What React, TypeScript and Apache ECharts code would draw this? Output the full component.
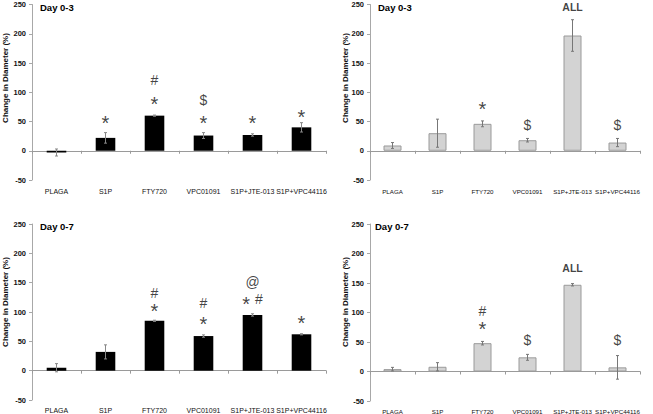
import React, { useEffect, useRef } from "react";
import * as echarts from "echarts";

const categories = ["PLAGA", "S1P", "FTY720", "VPC01091", "S1P+JTE-013", "S1P+VPC44116"];
const yTicks = { min: -50, max: 250, interval: 50 };

// Day 0-3
const day3Black = [-3, 22, 60, 26, 27, 40];
const day3BlackErr = [6, 9, 1, 5, 2, 8];
const day3Gray = [9, 30, 46, 18, 197, 14];
const day3GrayErr = [5, 24, 5, 3, 27, 7];
// Day 0-7
const day7Black = [5, 32, 85, 59, 95, 62];
const day7BlackErr = [7, 12, 1, 2, 2, 1];
const day7Gray = [4, 8, 48, 24, 147, 7];
const day7GrayErr = [3, 7, 3, 5, 2, 20];

// significance marks: [category index, level in data units, text]
const day3BlackMarks: [number, number, string][] = [
  [1, 56, "*"], [2, 89, "*"], [2, 121, "#"], [3, 56, "*"], [3, 87, "$"], [4, 56, "*"], [5, 67, "*"],
];
const day3GrayMarks: [number, number, string][] = [
  [2, 80, "*"], [3, 44, "$"], [4, 246, "ALL"], [5, 44, "$"],
];
const day7BlackMarks: [number, number, string][] = [
  [2, 110, "*"], [2, 132, "#"], [3, 88, "*"], [3, 115, "#"], [4, 122, "* #"], [4, 151, "@"], [5, 90, "*"],
];
const day7GrayMarks: [number, number, string][] = [
  [2, 80, "*"], [2, 102, "#"], [3, 53, "$"], [4, 175, "ALL"], [5, 53, "$"],
];

const panelTitles = ["Day 0-3", "Day 0-3", "Day 0-7", "Day 0-7"];
const yTitle = "Change in Diameter (%)";

const FONT = "'Liberation Sans', Arial, sans-serif";
const MARK_FONT = "'Liberation Sans', Arial, sans-serif";

function markLabel(text: string) {
  if (text === "ALL") {
    return { fontSize: 10.5, fontWeight: "bold", offset: [0, 0] };
  }
  if (text === "*") {
    return { fontSize: 20, fontWeight: "normal", offset: [0, 5] };
  }
  if (text === "* #") {
    return {
      formatter: "{a|*}{b|#}",
      rich: {
        a: { fontSize: 20, fontFamily: MARK_FONT, color: "#111", padding: [10, 5, 0, 0] },
        b: { fontSize: 14, fontFamily: MARK_FONT, color: "#111" },
      },
      offset: [0, 0],
    };
  }
  return { fontSize: 14, fontWeight: "normal", offset: [0, 0] };
}

export default function App() {
  const ref = useRef<HTMLDivElement>(null);
  useEffect(() => {
    if (!ref.current) return;
    const chart = echarts.init(ref.current, undefined, { renderer: "svg" });

    const grids = [
      { left: 32, top: 4.5, width: 294, height: 175.5 },
      { left: 370, top: 4.5, width: 270, height: 175.5 },
      { left: 32, top: 224, width: 294, height: 177 },
      { left: 370, top: 224, width: 270, height: 177 },
    ];
    const panels = [
      { vals: day3Black, err: day3BlackErr, marks: day3BlackMarks, gray: false },
      { vals: day3Gray, err: day3GrayErr, marks: day3GrayMarks, gray: true },
      { vals: day7Black, err: day7BlackErr, marks: day7BlackMarks, gray: false },
      { vals: day7Gray, err: day7GrayErr, marks: day7GrayMarks, gray: true },
    ];

    const xAxis = grids.map((_, i) => ({
      type: "category",
      gridIndex: i,
      data: categories,
      boundaryGap: true,
      axisLine: { onZero: true, lineStyle: { color: "#9a9a9a", width: 1 } },
      axisTick: { show: true, alignWithLabel: false, length: 3, lineStyle: { color: "#9a9a9a" } },
      axisLabel: {
        margin: i < 2 ? 8 : 7,
        fontSize: i % 2 === 0 ? 7 : 6.2,
        color: "#111",
        fontFamily: FONT,
        interval: 0,
      },
    }));
    const yAxis = grids.map((_, i) => ({
      type: "value",
      gridIndex: i,
      min: yTicks.min,
      max: yTicks.max,
      interval: yTicks.interval,
      splitLine: { show: false },
      axisLine: { show: true, lineStyle: { color: "#a8a8a8", width: 1 } },
      axisTick: { show: true, length: 3, lineStyle: { color: "#a8a8a8" } },
      axisLabel: { fontSize: 7.5, fontWeight: "bold", color: "#111", fontFamily: FONT, margin: 6 },
    }));

    const series: any[] = [];
    panels.forEach((p, i) => {
      series.push({
        type: "bar",
        xAxisIndex: i,
        yAxisIndex: i,
        data: p.vals,
        barWidth: "40%",
        itemStyle: p.gray
          ? { color: "#d3d3d3", borderColor: "#9a9a9a", borderWidth: 1 }
          : { color: "#000" },
      });
      const errColor = p.gray ? "#777" : "#888";
      series.push({
        type: "custom",
        xAxisIndex: i,
        yAxisIndex: i,
        data: p.vals.map((v, k) => [k, v - p.err[k], v + p.err[k]]),
        z: 5,
        renderItem: (params: any, api: any) => {
          const x = api.value(0);
          const lo = api.coord([x, api.value(1)]);
          const hi = api.coord([x, api.value(2)]);
          const c = 1.5;
          const st = { stroke: errColor, lineWidth: 1 };
          return {
            type: "group",
            children: [
              { type: "line", shape: { x1: lo[0], y1: lo[1], x2: hi[0], y2: hi[1] }, style: st },
              { type: "line", shape: { x1: hi[0] - c, y1: hi[1], x2: hi[0] + c, y2: hi[1] }, style: st },
              { type: "line", shape: { x1: lo[0] - c, y1: lo[1], x2: lo[0] + c, y2: lo[1] }, style: st },
            ],
          };
        },
      });
      series.push({
        type: "scatter",
        xAxisIndex: i,
        yAxisIndex: i,
        symbolSize: 0,
        z: 6,
        data: p.marks.map((m) => ({
          value: [m[0], m[1]],
          name: m[2],
          label: markLabel(m[2]),
        })),
        label: {
          show: true,
          position: "inside",
          formatter: (d: any) => d.name,
          fontFamily: MARK_FONT,
          color: "#111",
        },
      });
    });

    const graphic: any[] = [];
    const titlePos = [
      [40, 7], [378, 7], [40, 226], [375, 226],
    ];
    const yTitlePos = [
      [5, 78], [345, 78], [5, 302], [345, 302],
    ];
    panelTitles.forEach((t, i) => {
      graphic.push({
        type: "text",
        x: titlePos[i][0],
        y: titlePos[i][1],
        style: {
          text: t, fontSize: 9.5, fontWeight: "bold", fontFamily: FONT, fill: "#000",
          textAlign: "left", textVerticalAlign: "middle",
        },
      });
      graphic.push({
        type: "text",
        x: yTitlePos[i][0],
        y: yTitlePos[i][1],
        rotation: Math.PI / 2,
        style: {
          text: yTitle, fontSize: 8, fontWeight: "bold", fontFamily: FONT, fill: "#111",
          textAlign: "center", textVerticalAlign: "middle",
        },
      });
    });

    chart.setOption({
      animation: false,
      backgroundColor: "#fff",
      grid: grids,
      xAxis,
      yAxis,
      series,
      graphic,
    });
    return () => chart.dispose();
  }, []);
  return (
    <div
      ref={ref}
      style={{ position: "fixed", left: 0, top: 0, width: 653, height: 414 }}
    />
  );
}
